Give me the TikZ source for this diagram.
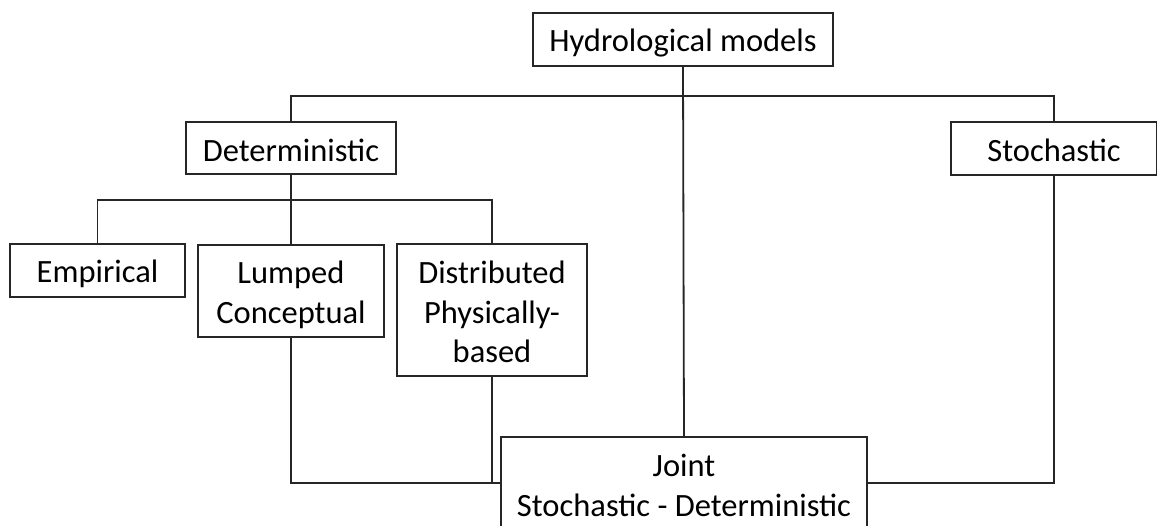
\documentclass[tikz,border=0pt]{standalone}
\usepackage{fontspec}
\setmainfont{Carlito}
\newcommand\tstrut{\rule{0pt}{30pt}}
\newcommand\bstrut{\rule[-4pt]{0pt}{4pt}}
\begin{document}
\begin{tikzpicture}[x=1pt,y=-1pt,
  box/.style={draw=black!85,line width=1.8pt,fill=white,inner sep=0pt,align=center,
    font=\fontsize{32.5}{39.5}\selectfont},
  conn/.style={draw=black!85,line width=1.8pt}]
\useasboundingbox (0,0) rectangle (1157,525);
\clip (0,0) rectangle (1157,525);
\node[box,minimum width=300,minimum height=53] (hm) at (683,39.5) {\tstrut\bstrut Hydrological models};
\node[box,minimum width=210,minimum height=52] (det) at (291,148) {\tstrut\bstrut Deterministic};
\node[box,minimum width=206,minimum height=53] (sto) at (1054,148.5) {\tstrut\bstrut Stochastic};
\node[box,minimum width=175,minimum height=53] (emp) at (97.5,270.5) {\tstrut\bstrut Empirical};
\node[box,minimum width=186,minimum height=92] (lump) at (291,291) {\tstrut Lumped\\Conceptual\bstrut};
\node[box,minimum width=190,minimum height=132] (dist) at (492,310) {\tstrut Distributed\\Physically-\\based\bstrut};
\node[box,minimum width=366,minimum height=93] (joint) at (684,483.5) {\tstrut Joint\\Stochastic - Deterministic\bstrut};
\coordinate (bus) at (684,96);
\coordinate (dbus) at (291,200);
\coordinate (jb) at (0,483);
\draw[conn] (hm.south) -- (joint.north);
\draw[conn] (det.north) |- (bus) -| (sto.north);
\draw[conn] (det.south) -- (lump.north);
\draw[conn] (emp.north) |- (dbus) -| (dist.north);
\draw[conn] (lump.south) |- (joint.west |- jb);
\draw[conn] (dist.south) -- (dist.south |- jb);
\draw[conn] (sto.south) |- (joint.east |- jb);
\end{tikzpicture}
\end{document}
